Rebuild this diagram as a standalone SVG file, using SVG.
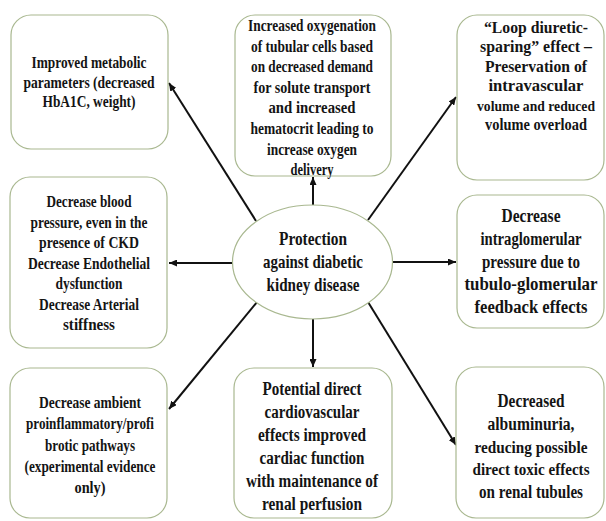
<svg xmlns="http://www.w3.org/2000/svg" width="606" height="521" viewBox="0 0 606 521">
<style>
.box{fill:#ffffff;stroke:#a9b890;stroke-width:1.2}
.t{font-family:"Liberation Serif","Times New Roman",serif;font-weight:bold;fill:#141414;text-anchor:middle}
.s16{font-size:17px}
.s18{font-size:18px}
.s19{font-size:19px}
.sm{font-size:16px}
.xs{font-size:15px}
.conn line{stroke:#111;stroke-width:2;marker-end:url(#ah)}
</style>
<defs>
<marker id="ah" markerUnits="userSpaceOnUse" markerWidth="8" markerHeight="7" refX="8" refY="3.5" orient="auto">
<path d="M0,0 L8,3.5 L0,7 z" fill="#111"/>
</marker>
</defs>
<rect width="606" height="521" fill="#ffffff"/>

<g id="connectors" class="conn">
<line x1="313" y1="205" x2="313" y2="177"/>
<line x1="256" y1="221" x2="169" y2="83"/>
<line x1="368" y1="220" x2="456" y2="97"/>
<line x1="233" y1="263" x2="169" y2="263"/>
<line x1="392" y1="262" x2="456" y2="262"/>
<line x1="257" y1="302" x2="169" y2="409"/>
<line x1="313" y1="318" x2="313" y2="367"/>
<line x1="368" y1="302" x2="456" y2="445"/>
</g>

<g id="center">
<ellipse class="box" cx="312.5" cy="262" rx="80" ry="57"/>
<text class="t s19"><tspan x="313" y="245" textLength="68" lengthAdjust="spacingAndGlyphs">Protection</tspan><tspan x="313" y="268" textLength="100" lengthAdjust="spacingAndGlyphs">against diabetic</tspan><tspan x="313" y="291" textLength="93" lengthAdjust="spacingAndGlyphs">kidney disease</tspan></text>
</g>

<g id="n-metabolic">
<rect class="box" x="11" y="15" width="157" height="134" rx="20"/>
<text class="t s16"><tspan x="89" y="68" textLength="115" lengthAdjust="spacingAndGlyphs">Improved metabolic</tspan><tspan x="89" y="87.5" textLength="131" lengthAdjust="spacingAndGlyphs">parameters (decreased</tspan><tspan x="89" y="107" textLength="93" lengthAdjust="spacingAndGlyphs">HbA1C, weight)</tspan></text>
</g>

<g id="n-oxygenation">
<rect class="box" x="235" y="15" width="156" height="161" rx="20"/>
<text class="t s16"><tspan x="312" y="31" textLength="128" lengthAdjust="spacingAndGlyphs">Increased oxygenation</tspan><tspan x="312" y="51.6" textLength="122" lengthAdjust="spacingAndGlyphs">of tubular cells based</tspan><tspan x="312" y="72.2" textLength="122" lengthAdjust="spacingAndGlyphs">on decreased demand</tspan><tspan x="312" y="92.8" textLength="117" lengthAdjust="spacingAndGlyphs">for solute transport</tspan><tspan x="312" y="113.4" textLength="87" lengthAdjust="spacingAndGlyphs">and increased</tspan><tspan x="312" y="134" textLength="123" lengthAdjust="spacingAndGlyphs">hematocrit leading to</tspan><tspan x="312" y="154.6" textLength="90" lengthAdjust="spacingAndGlyphs">increase oxygen</tspan><tspan x="312" y="175" textLength="43" lengthAdjust="spacingAndGlyphs">delivery</tspan></text>
</g>

<g id="n-loop">
<rect class="box" x="457" y="15" width="147" height="165" rx="20"/>
<text class="t s16"><tspan x="536" y="33" textLength="104" lengthAdjust="spacingAndGlyphs">“Loop diuretic-</tspan><tspan x="536" y="52.4" textLength="112" lengthAdjust="spacingAndGlyphs">sparing” effect –</tspan><tspan x="536" y="71.8" textLength="102" lengthAdjust="spacingAndGlyphs">Preservation of</tspan><tspan x="536" y="91.2" textLength="95" lengthAdjust="spacingAndGlyphs">intravascular</tspan><tspan class="xs" x="536" y="110.6" textLength="118" lengthAdjust="spacingAndGlyphs">volume and reduced</tspan><tspan x="536" y="130" textLength="102" lengthAdjust="spacingAndGlyphs">volume overload</tspan></text>
</g>

<g id="n-bloodpressure">
<rect class="box" x="10" y="177" width="157" height="171" rx="20"/>
<text class="t s16"><tspan x="89" y="207" textLength="85" lengthAdjust="spacingAndGlyphs">Decrease blood</tspan><tspan x="89" y="227.5" textLength="117" lengthAdjust="spacingAndGlyphs">pressure, even in the</tspan><tspan x="89" y="248" textLength="100" lengthAdjust="spacingAndGlyphs">presence of CKD</tspan><tspan x="89" y="268.5" textLength="122" lengthAdjust="spacingAndGlyphs">Decrease Endothelial</tspan><tspan x="89" y="289" textLength="67" lengthAdjust="spacingAndGlyphs">dysfunction</tspan><tspan x="89" y="309.5" textLength="100" lengthAdjust="spacingAndGlyphs">Decrease Arterial</tspan><tspan x="89" y="330" textLength="52" lengthAdjust="spacingAndGlyphs">stiffness</tspan></text>
</g>

<g id="n-intraglomerular">
<rect class="box" x="457" y="195" width="147" height="133" rx="20"/>
<text class="t s18"><tspan x="531" y="222" textLength="59" lengthAdjust="spacingAndGlyphs">Decrease</tspan><tspan x="531" y="244.8" textLength="101" lengthAdjust="spacingAndGlyphs">intraglomerular</tspan><tspan x="531" y="267.5" textLength="98" lengthAdjust="spacingAndGlyphs">pressure due to</tspan><tspan x="531" y="290.3" textLength="133" lengthAdjust="spacingAndGlyphs">tubulo-glomerular</tspan><tspan x="531" y="313" textLength="113" lengthAdjust="spacingAndGlyphs">feedback effects</tspan></text>
</g>

<g id="n-inflammatory">
<rect class="box" x="10" y="368" width="157" height="150" rx="20"/>
<text class="t s16"><tspan x="90" y="408" textLength="102" lengthAdjust="spacingAndGlyphs">Decrease ambient</tspan><tspan x="90" y="429.3" textLength="128" lengthAdjust="spacingAndGlyphs">proinflammatory/profi</tspan><tspan x="90" y="450.5" textLength="90" lengthAdjust="spacingAndGlyphs">brotic pathways</tspan><tspan x="90" y="471.8" textLength="131" lengthAdjust="spacingAndGlyphs">(experimental evidence</tspan><tspan x="90" y="493" textLength="31" lengthAdjust="spacingAndGlyphs">only)</tspan></text>
</g>

<g id="n-cardiovascular">
<rect class="box" x="234" y="368" width="158" height="150" rx="20"/>
<text class="t s18"><tspan x="312" y="395" textLength="99" lengthAdjust="spacingAndGlyphs">Potential direct</tspan><tspan x="312" y="418" textLength="95" lengthAdjust="spacingAndGlyphs">cardiovascular</tspan><tspan x="312" y="441" textLength="108" lengthAdjust="spacingAndGlyphs">effects improved</tspan><tspan x="312" y="464" textLength="105" lengthAdjust="spacingAndGlyphs">cardiac function</tspan><tspan x="312" y="487" textLength="132" lengthAdjust="spacingAndGlyphs">with maintenance of</tspan><tspan x="312" y="510" textLength="100" lengthAdjust="spacingAndGlyphs">renal perfusion</tspan></text>
</g>

<g id="n-albuminuria">
<rect class="box" x="456" y="367" width="148" height="151" rx="20"/>
<text class="t s18"><tspan x="531" y="407" textLength="67" lengthAdjust="spacingAndGlyphs">Decreased</tspan><tspan x="531" y="429.8" textLength="87" lengthAdjust="spacingAndGlyphs">albuminuria,</tspan><tspan class="sm" x="531" y="452.5" textLength="113" lengthAdjust="spacingAndGlyphs">reducing possible</tspan><tspan class="sm" x="531" y="475.3" textLength="117" lengthAdjust="spacingAndGlyphs">direct toxic effects</tspan><tspan x="531" y="498" textLength="104" lengthAdjust="spacingAndGlyphs">on renal tubules</tspan></text>
</g>
</svg>
